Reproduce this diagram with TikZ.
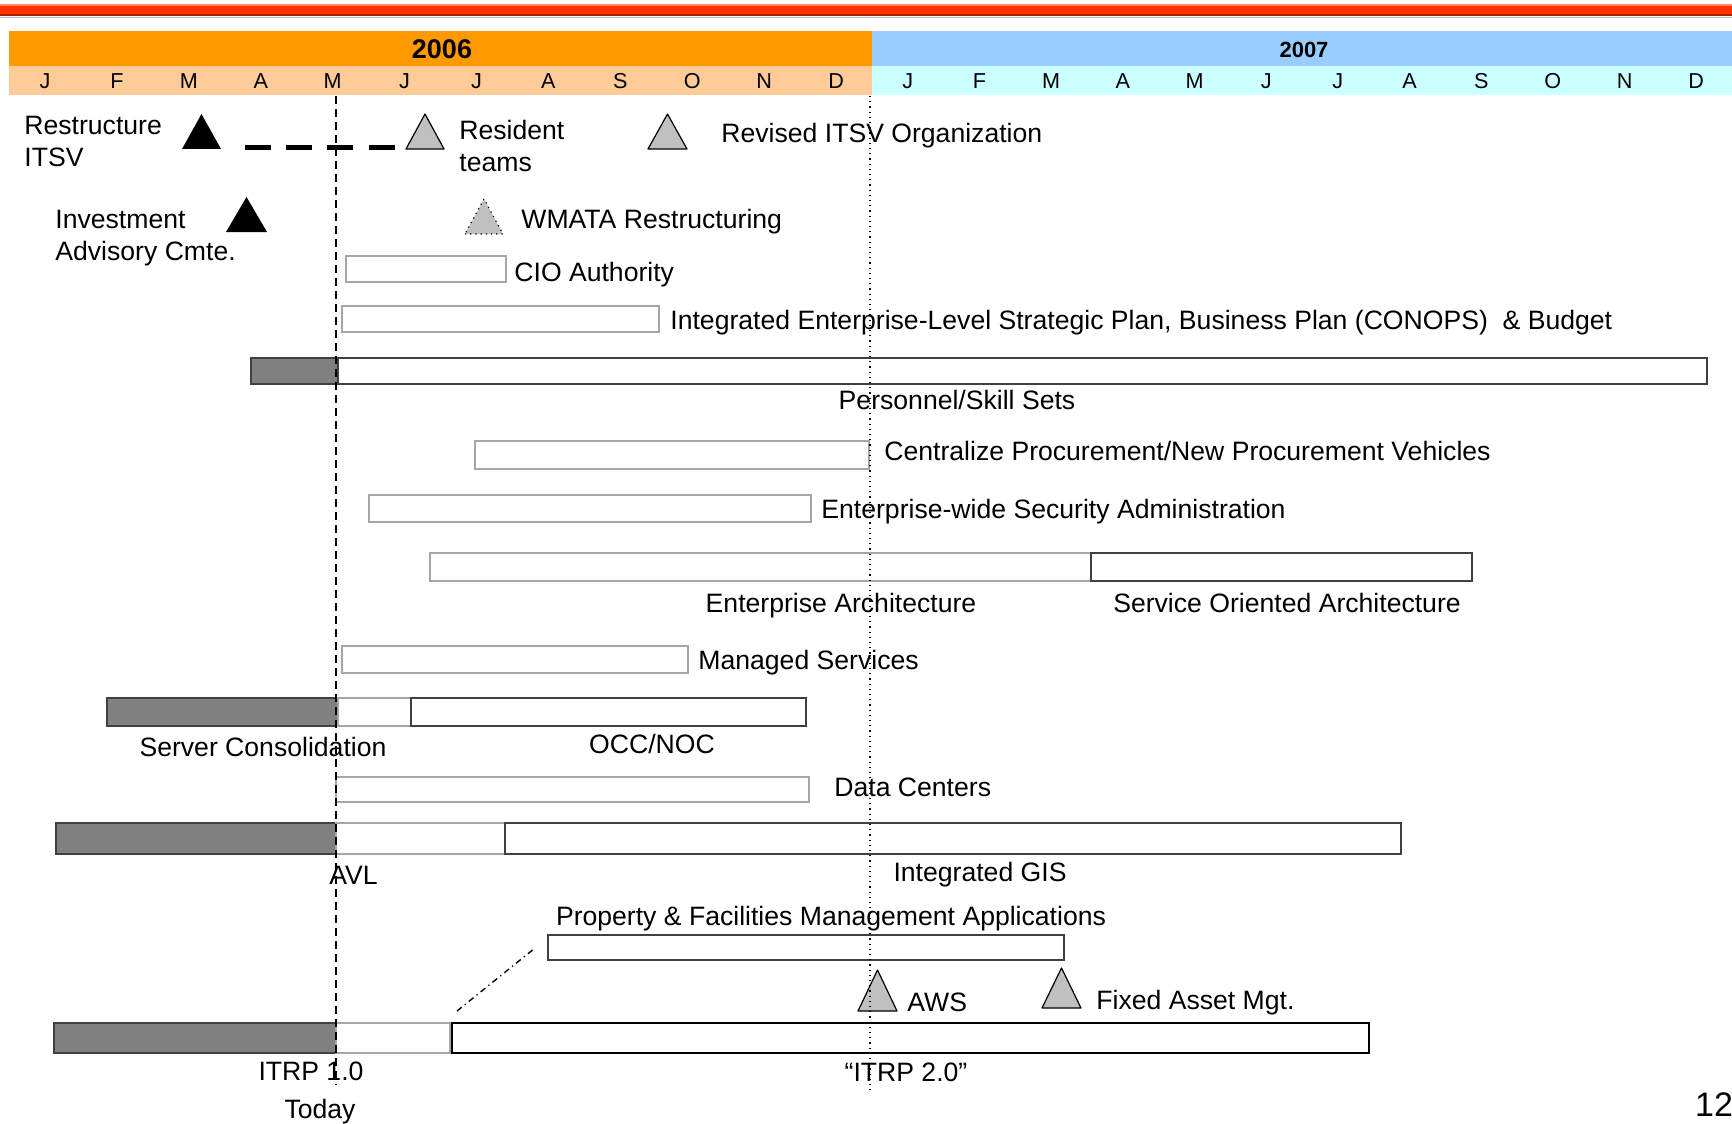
\documentclass[tikz,border=0pt]{standalone}
\usepackage{fontspec}
\setmainfont{Liberation Sans}
\definecolor{redbar}{HTML}{FF3300}
\definecolor{redhi}{HTML}{FF8A70}
\definecolor{redlo}{HTML}{A82000}
\definecolor{yr06}{HTML}{FF9900}
\definecolor{mo06}{HTML}{FFCC99}
\definecolor{yr07}{HTML}{99CCFF}
\definecolor{mo07}{HTML}{CCFFFF}
\definecolor{donefill}{HTML}{808080}
\definecolor{darkedge}{HTML}{404040}
\definecolor{lightedge}{HTML}{A6A6A6}
\definecolor{msfill}{HTML}{C0C0C0}
\begin{document}
\begin{tikzpicture}[x=0.5pt,y=-0.5pt,
  lbl/.style={font=\fontsize{13.3}{15.9}\selectfont, inner sep=0pt, anchor=base west},
  clbl/.style={lbl, anchor=base},
  monthlbl/.style={font=\fontsize{10.8}{12}\selectfont, inner sep=0pt},
  donebar/.style={draw=darkedge, fill=donefill, line width=1.1pt},
  planbar/.style={draw=lightedge, fill=white, line width=1pt},
  workbar/.style={draw=darkedge, fill=white, line width=1.1pt},
  keybar/.style={draw=black, fill=white, line width=1.3pt},
  blackms/.style={fill=black},
  grayms/.style={fill=msfill, draw=black, line width=0.6pt, line join=round},
  dotms/.style={fill=msfill, draw=black, line width=0.6pt, dotted},
  todayline/.style={line width=1pt, dash pattern=on 4pt off 2.5pt},
  yearline/.style={line width=0.6pt, dotted},
]
\useasboundingbox (0,0) rectangle (1732,1123);

% top red rule
\fill[redbar] (0,4) rectangle (1732,16);
\fill[redhi] (0,4) rectangle (1732,6.5);
\fill[redlo] (0,14) rectangle (1732,16.5);
\fill[black!25] (0,17) rectangle (1732,18);

% calendar header
\fill[yr06] (9,31) rectangle (872,66);
\fill[mo06] (9,66) rectangle (872,95);
\fill[yr07] (872,31) rectangle (1732,66);
\fill[mo07] (872,66) rectangle (1732,95);
\node[font=\bfseries\fontsize{13.5}{15}\selectfont, inner sep=0pt] (y2006) at (442,49) {2006};
\node[font=\bfseries\fontsize{11}{13}\selectfont, inner sep=0pt] (y2007) at (1304,49.5) {2007};
\foreach \m [count=\i from 0] in {J,F,M,A,M,J,J,A,S,O,N,D} {
  \node[monthlbl] (ma\i) at ({9+71.92*(\i+0.5)},81) {\m};
  \node[monthlbl] (mb\i) at ({872+71.67*(\i+0.5)},81) {\m};
}

% milestones, first rows
\coordinate (dashA) at (245,147.5);
\coordinate (dashB) at (395,147.5);
\draw[line width=2.6pt, dash pattern=on 13pt off 7.6pt] (dashA) -- (dashB);
\fill[blackms] (182,149) -- (221,149) -- (201.5,114) -- cycle;
\draw[grayms] (406,149) -- (444,149) -- (425,114) -- cycle;
\draw[grayms] (648,149) -- (687,149) -- (667.5,114) -- cycle;
\fill[blackms] (226,232) -- (267,232) -- (246.5,197) -- cycle;
\draw[dotms] (465,234) -- (503,234) -- (484,199) -- cycle;

\node[lbl] (restr1) at (24,135) {Restructure};
\node[lbl] (restr2) at (24,167) {ITSV};
\node[lbl] (resid1) at (459,140) {Resident};
\node[lbl] (resid2) at (459,172) {teams};
\node[lbl] (revised) at (721,143) {Revised ITSV Organization};
\node[lbl] (invest1) at (55,228) {Investment};
\node[lbl] (invest2) at (55,260) {Advisory Cmte.};
\node[lbl] (wmata) at (521,228) {WMATA Restructuring};

% activity bars
\draw[planbar] (346,256) rectangle (506,282);
\node[lbl] (cio) at (514,281) {CIO Authority};

\draw[planbar] (342,306) rectangle (659,332);
\node[lbl] (plan) at (670,329) {Integrated Enterprise-Level Strategic Plan, Business Plan (CONOPS) \ \& Budget};

\draw[donebar] (251,358) rectangle (338,384);
\draw[workbar] (338,358) rectangle (1707,384);
\node[clbl] (personnel) at (957,409) {Personnel/Skill Sets};

\draw[planbar] (475,441) rectangle (869,469);
\node[lbl] (procure) at (884,460) {Centralize Procurement/New Procurement Vehicles};

\draw[planbar] (369,495) rectangle (811,522);
\node[lbl] (security) at (821,518) {Enterprise-wide Security Administration};

\draw[planbar] (430,553) rectangle (1091,581);
\draw[workbar] (1091,553) rectangle (1472,581);
\node[clbl] (ea) at (841,612) {Enterprise Architecture};
\node[clbl] (soa) at (1287,612) {Service Oriented Architecture};

\draw[planbar] (342,646) rectangle (688,673);
\node[lbl] (managed) at (698,669) {Managed Services};

\draw[donebar] (107,698) rectangle (338,726);
\draw[planbar] (338,698) rectangle (411,726);
\draw[workbar] (411,698) rectangle (806,726);
\node[clbl] (server) at (263,756) {Server Consolidation};
\node[clbl] (occ) at (652,753) {OCC/NOC};

\draw[planbar] (336,777) rectangle (809,802);
\node[lbl] (datac) at (834,796) {Data Centers};

\draw[donebar] (56,823) rectangle (336,854);
\draw[planbar] (336,823) rectangle (505,854);
\draw[workbar] (505,823) rectangle (1401,854);
\node[lbl] (avl) at (329,884) {AVL};
\node[clbl] (gis) at (980,881) {Integrated GIS};

\node[clbl] (pfm) at (831,925) {Property \& Facilities Management Applications};
\draw[workbar] (548,935) rectangle (1064,960);
\coordinate (pfmA) at (457,1011);
\coordinate (pfmB) at (535,948);
\draw[line width=0.7pt, dash pattern=on 3pt off 2pt on 0.6pt off 2pt] (pfmA) -- (pfmB);

\draw[grayms] (858,1011) -- (897,1011) -- (877.5,970) -- cycle;
\node[lbl] (aws) at (907,1011) {AWS};
\draw[grayms] (1042,1008) -- (1081,1008) -- (1061.5,968) -- cycle;
\node[lbl] (fixed) at (1096,1009) {Fixed Asset Mgt.};

\draw[donebar] (54,1023) rectangle (336,1053);
\draw[planbar] (336,1023) rectangle (450,1053);
\draw[keybar] (452,1023) rectangle (1369,1053);
\node[clbl] (itrp1) at (311,1080) {ITRP 1.0};
\node[clbl] (today) at (320,1118) {Today};
\node[clbl] (itrp2) at (906,1081) {“ITRP 2.0”};

% today and year-end markers
\coordinate (todayTop) at (336,96);
\coordinate (todayBot) at (336,1085);
\draw[todayline] (todayTop) -- (todayBot);
\coordinate (yeTop) at (870,96);
\coordinate (yeBot) at (870,1091);
\draw[yearline] (yeTop) -- (yeBot);

% page number
\node[font=\fontsize{17}{20}\selectfont, inner sep=0pt, anchor=base] (pageno) at (1714,1116) {12};
\end{tikzpicture}
\end{document}
